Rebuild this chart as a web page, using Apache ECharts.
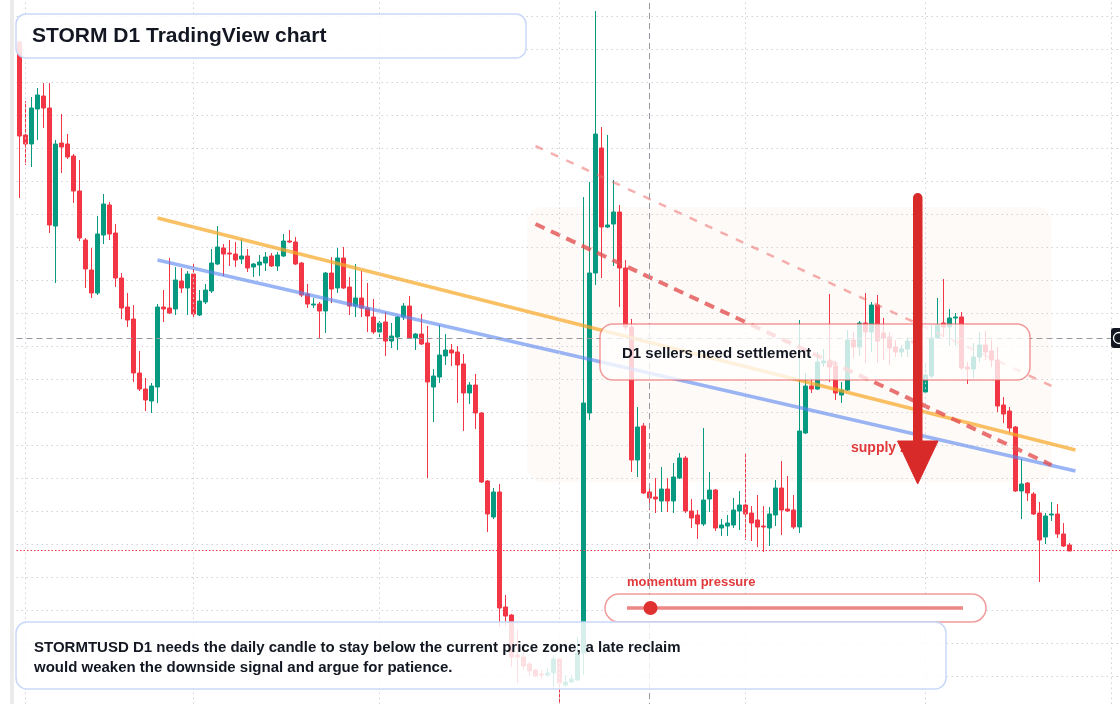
<!DOCTYPE html>
<html>
<head>
<meta charset="utf-8">
<title>STORM D1 TradingView chart</title>
<style>
  html, body { margin: 0; padding: 0; background: #ffffff; }
  #chart { width: 1120px; height: 704px; }
</style>
<script src="https://cdn.jsdelivr.net/npm/echarts@6/dist/echarts.min.js"></script>
</head>
<body>
<div id="chart"></div>
<script>
// daily candles, price in chart units (one grid step = 33)
const opens = [
  667, 574, 565, 600, 613, 601, 483, 566, 565, 553, 518, 469, 439, 416, 474, 504, 476, 431, 402, 390,
  336, 320, 308, 322, 402, 401, 400, 428, 421, 435, 394, 407, 418, 445, 461, 456, 455, 450, 453, 442,
  444, 446, 453, 443, 453, 468, 467, 446, 415, 404, 405, 398, 436, 421, 451, 422, 403, 411, 401, 392,
  377, 387, 368, 372, 392, 403, 371, 375, 366, 322, 332, 353, 359, 357, 345, 316, 324, 296, 228, 192,
  217, 102, 94, 54, 52, 45, 39, 35, 34, 36, 50, 24, 27, 29, 56, 296, 436, 561, 482, 485,
  497, 441, 382, 249, 283, 217, 212, 208, 220, 208, 231, 251, 198, 194, 185, 210, 219, 181, 183, 184,
  198, 204, 196, 189, 183, 181, 194, 221, 200, 199, 182, 276, 323, 320, 346, 348, 343, 314, 319, 369,
  362, 386, 377, 404, 376, 372, 362, 357, 360, 368, 366, 317, 333, 371, 386, 382, 391, 392, 342, 340,
  352, 364, 358, 349, 304, 298, 282, 218, 226, 215, 196, 172, 194, 195, 175, 164
];
const closes = [
  573, 565, 601, 614, 601, 484, 565, 562, 552, 518, 471, 440, 416, 475, 505, 475, 431, 401, 389, 336,
  320, 309, 323, 402, 400, 396, 429, 421, 435, 395, 408, 419, 446, 462, 455, 455, 449, 453, 441, 445,
  447, 452, 443, 454, 468, 467, 445, 414, 405, 405, 398, 436, 420, 451, 421, 403, 411, 401, 393, 377,
  386, 368, 373, 392, 403, 371, 375, 365, 327, 333, 354, 359, 356, 344, 316, 324, 296, 227, 195, 217,
  101, 93, 52, 52, 43, 38, 33, 34, 36, 50, 26, 27, 30, 56, 306, 436, 575, 482, 484, 497,
  441, 382, 249, 282, 216, 211, 210, 220, 208, 232, 251, 198, 191, 185, 209, 219, 181, 184, 186, 199,
  204, 195, 186, 182, 182, 195, 221, 199, 198, 182, 278, 323, 320, 347, 348, 342, 316, 319, 369, 362,
  386, 377, 404, 368, 371, 361, 357, 360, 368, 366, 329, 334, 371, 384, 382, 391, 392, 341, 340, 352,
  364, 357, 349, 303, 295, 281, 218, 225, 216, 195, 169, 193, 195, 175, 163, 158
];
const lows = [
  511, 544, 542, 569, 581, 476, 426, 536, 550, 506, 468, 421, 411, 414, 465, 469, 422, 390, 382, 327,
  318, 298, 296, 306, 387, 395, 394, 416, 394, 392, 393, 405, 416, 444, 433, 443, 442, 445, 437, 432,
  433, 438, 442, 438, 452, 466, 444, 412, 401, 401, 371, 376, 406, 416, 420, 394, 392, 392, 377, 375,
  372, 353, 361, 359, 389, 370, 359, 364, 231, 287, 326, 344, 343, 306, 278, 305, 280, 226, 177, 190,
  82, 83, 42, 26, 39, 33, 32, 30, 32, 22, 6, 22, 26, 28, 34, 289, 424, 431, 481, 443,
  402, 379, 237, 232, 215, 199, 196, 197, 197, 196, 230, 196, 181, 170, 183, 197, 178, 173, 173, 181,
  179, 169, 168, 162, 157, 163, 183, 174, 197, 180, 176, 275, 316, 319, 342, 327, 309, 306, 318, 351,
  353, 346, 357, 346, 349, 344, 352, 352, 352, 353, 324, 316, 331, 370, 372, 363, 363, 339, 325, 331,
  347, 349, 342, 297, 286, 276, 217, 190, 208, 194, 127, 165, 188, 171, 162, 158
];
const highs = [
  668, 608, 612, 621, 626, 626, 569, 595, 575, 555, 549, 471, 461, 493, 515, 507, 485, 436, 416, 404,
  358, 331, 326, 405, 419, 451, 442, 441, 438, 445, 419, 425, 460, 483, 465, 469, 467, 470, 460, 446,
  454, 457, 456, 457, 475, 479, 472, 447, 425, 411, 407, 437, 452, 461, 462, 432, 445, 438, 426, 410,
  388, 397, 386, 393, 406, 413, 376, 395, 383, 340, 384, 375, 365, 363, 355, 327, 335, 297, 229, 221,
  225, 114, 95, 79, 57, 47, 40, 39, 41, 54, 52, 34, 34, 72, 512, 527, 698, 582, 574, 529,
  504, 449, 390, 302, 286, 224, 231, 242, 231, 246, 256, 253, 210, 199, 281, 237, 220, 190, 194, 211,
  218, 256, 203, 214, 203, 202, 229, 248, 233, 214, 389, 336, 330, 357, 360, 415, 348, 327, 379, 377,
  388, 416, 407, 414, 391, 377, 369, 364, 372, 379, 384, 347, 384, 411, 430, 400, 396, 397, 347, 366,
  377, 378, 369, 362, 312, 302, 283, 250, 227, 217, 207, 196, 207, 205, 186, 166
];

const slotCount = 184;              // candles plus empty days on the right
const gridDays = [1, 29, 60, 90, 121, 151, 182];
const resistanceLine = [[23, 491], [176, 259]];
const supportLine = [[23, 449], [176, 238]];
const channelUpper = [[86, 563], [172, 323]];
const channelLower = [[86, 485], [172, 244]];
const crossDay = 105;
const crossPrice = 371;
const lastPrice = 159;
const zoneDays = [85, 172];
const zonePrices = [502, 227];
const momentumLevel = 0.07;

const days = [];
const start = new Date(Date.UTC(2024, 10, 1));
for (let i = 0; i < slotCount; i++) {
  const d = new Date(start.getTime() + i * 86400000);
  days.push(d.toISOString().slice(0, 10));
}

const candles = opens.map((o, i) => [o, closes[i], lows[i], highs[i]]);

const FONT = '"Liberation Sans", Arial, Helvetica, sans-serif';
const dotted = [1.5, 3.5];

const chart = echarts.init(document.getElementById('chart'));

const trend = (name, data, color, width, type) => ({
  name,
  type: 'line',
  data: data.map(p => [days[p[0]], p[1]]),
  symbol: 'none',
  z: 4,
  silent: true,
  lineStyle: { color, width, type }
});

chart.setOption({
  animation: false,
  backgroundColor: '#ffffff',
  grid: {
    left: 16.5, top: -17, width: 1104, height: 726,
    containLabel: false, outerBoundsMode: 'none'
  },
  xAxis: {
    type: 'category',
    data: days,
    boundaryGap: true,
    axisLine: { show: false },
    axisTick: { show: false },
    axisLabel: { show: false },
    splitLine: { show: false }
  },
  yAxis: {
    type: 'value',
    min: 0, max: 726, interval: 33,
    position: 'right',
    axisLine: { show: false },
    axisTick: { show: false },
    axisLabel: { show: false },
    splitLine: { show: true, lineStyle: { color: '#cfd2d9', width: 1, type: dotted } }
  },
  series: [
    {
      name: 'STORMTUSD',
      type: 'candlestick',
      data: candles,
      barWidth: 5,
      z: 2,
      itemStyle: {
        color: '#089981', color0: '#f23645',
        borderColor: '#089981', borderColor0: '#f23645',
        borderWidth: 1
      },
      markLine: {
        silent: true,
        symbol: ['none', 'none'],
        label: { show: false },
        data: [
          ...gridDays.map(d => ({ xAxis: days[d], lineStyle: { color: '#cfd2d9', width: 1, type: dotted } })),
          { xAxis: days[crossDay], lineStyle: { color: '#9598a1', width: 1, type: [6, 4] } },
          { yAxis: crossPrice, lineStyle: { color: '#9598a1', width: 1, type: [6, 4] } },
          { yAxis: lastPrice, lineStyle: { color: '#f23645', width: 1, type: [1.5, 2] } }
        ]
      }
    },
    trend('resistance', resistanceLine, 'rgba(246,168,40,0.72)', 3.5, 'solid'),
    trend('support', supportLine, 'rgba(90,135,240,0.62)', 3.5, 'solid'),
    trend('channel upper', channelUpper, 'rgba(236,110,110,0.55)', 2.5, [8, 9]),
    trend('channel lower', channelLower, 'rgba(228,80,80,0.8)', 4, [10, 7])
  ]
});

// zone box from the same scales
const zA = chart.convertToPixel({ gridIndex: 0 }, [days[zoneDays[0]], zonePrices[0]]);
const zB = chart.convertToPixel({ gridIndex: 0 }, [days[zoneDays[1]], zonePrices[1]]);

const txt = (text, x, y, font, fill, z) => ({
  type: 'text', z: z || 120, silent: true,
  style: { text, x, y, font, fill, textVerticalAlign: 'middle', verticalAlign: 'middle' }
});

const boxStroke = 'rgba(196,214,248,0.95)';
const redStroke = 'rgba(234,96,96,0.62)';

chart.setOption({
  graphic: { elements: [
    { type: 'rect', z: 1, silent: true,
      shape: { x: zA[0] - 2.5, y: zA[1], width: zB[0] - zA[0] + 2.5, height: zB[1] - zA[1], r: 16 },
      style: { fill: 'rgba(250,214,190,0.13)' } },
    { type: 'rect', z: 110, silent: true,
      shape: { x: 10, y: 0, width: 4, height: 704 },
      style: { fill: '#ebebeb' } },
    // title
    { type: 'rect', z: 110, silent: true,
      shape: { x: 16, y: 14, width: 510, height: 44, r: 10 },
      style: { fill: 'rgba(255,255,255,0.85)', stroke: boxStroke, lineWidth: 1.5 } },
    txt('STORM D1 TradingView chart', 32, 36.5, 'bold 21px ' + FONT, '#131722'),
    // settlement note
    { type: 'rect', z: 110, silent: true,
      shape: { x: 600, y: 324, width: 430, height: 56, r: 13 },
      style: { fill: 'rgba(255,255,255,0.78)', stroke: redStroke, lineWidth: 1.5 } },
    txt('D1 sellers need settlement', 622, 353.5, 'bold 15px ' + FONT, '#131722'),
    // supply arrow
    txt('supply zone', 851, 448, 'bold 14px ' + FONT, '#e0393b'),
    { type: 'rect', z: 130, silent: true,
      shape: { x: 913, y: 193, width: 9.5, height: 252, r: 4.75 },
      style: { fill: '#d92a2a' } },
    { type: 'polygon', z: 130, silent: true,
      shape: { points: [[897.5, 441], [938, 441], [917.7, 484]] },
      style: { fill: '#d92a2a', stroke: '#d92a2a', lineWidth: 1, lineJoin: 'round' } },
    // momentum gauge
    txt('momentum pressure', 627, 582, 'bold 13px ' + FONT, '#e0393b'),
    { type: 'rect', z: 110, silent: true,
      shape: { x: 605, y: 594, width: 381, height: 28, r: 14 },
      style: { fill: 'rgba(255,255,255,0.92)', stroke: redStroke, lineWidth: 1.5 } },
    { type: 'line', z: 120, silent: true,
      shape: { x1: 627, y1: 608, x2: 963, y2: 608 },
      style: { stroke: 'rgba(232,100,100,0.78)', lineWidth: 3.5 } },
    { type: 'circle', z: 121, silent: true,
      shape: { cx: 627 + momentumLevel * 336, cy: 608, r: 7 },
      style: { fill: '#e03131' } },
    // bottom note
    { type: 'rect', z: 110, silent: true,
      shape: { x: 16, y: 622, width: 930, height: 67, r: 11 },
      style: { fill: 'rgba(255,255,255,0.84)', stroke: boxStroke, lineWidth: 1.5 } },
    txt('STORMTUSD D1 needs the daily candle to stay below the current price zone; a late reclaim', 34, 648, 'bold 15px ' + FONT, '#131722'),
    txt('would weaken the downside signal and argue for patience.', 34, 668, 'bold 15px ' + FONT, '#131722'),
    // crosshair price tag at the right edge
    { type: 'rect', z: 130, silent: true,
      shape: { x: 1111, y: 328, width: 16, height: 20, r: 3 },
      style: { fill: '#131722' } },
    { type: 'circle', z: 131, silent: true,
      shape: { cx: 1119, cy: 338, r: 5.5 },
      style: { fill: 'none', stroke: '#ffffff', lineWidth: 1.3 } }
  ] }
});

window.addEventListener('resize', () => chart.resize());
</script>
</body>
</html>
